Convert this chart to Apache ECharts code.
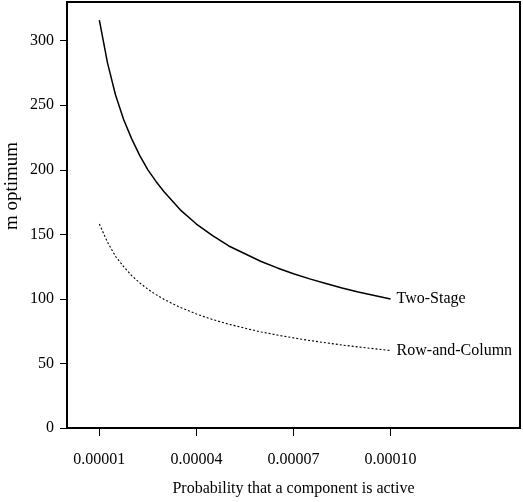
<!DOCTYPE html>
<html>
<head>
<meta charset="utf-8">
<script src="https://cdn.jsdelivr.net/npm/echarts@6/dist/echarts.min.js"></script>
<style>
  html, body { margin: 0; padding: 0; background: #fff; }
  #chart { width: 523px; height: 502px; }
</style>
</head>
<body>
<div id="chart"></div>
<script>
// Probability that a single component is active
var probability = [0.00001, 0.0000125, 0.000015, 0.0000175, 0.00002, 0.0000225,
                   0.000025, 0.0000275, 0.00003, 0.000035, 0.00004, 0.000045,
                   0.00005, 0.000055, 0.00006, 0.000065, 0.00007, 0.000075,
                   0.00008, 0.000085, 0.00009, 0.000095, 0.00010];
// Optimal group size m for each testing scheme
var twoStage     = [316, 283, 258, 239, 224, 211, 200, 191, 183, 169, 158, 149,
                    141, 135, 129, 124, 119.5, 115.5, 112, 108.5, 105.4, 102.6, 100];
var rowAndColumn = [158, 144, 133, 125, 118, 112.4, 107.5, 103.3, 99.6, 93.4, 88.3, 84,
                    80.4, 77.3, 74.4, 72, 69.8, 67.8, 66, 64.3, 62.8, 61.4, 60];

var xTicks = [0.00001, 0.00004, 0.00007, 0.00010];
var yTicks = [0, 50, 100, 150, 200, 250, 300];

var FONT = '"Liberation Serif", "DejaVu Serif", serif';

function pairs(xs, ys) {
  return xs.map(function (x, i) { return [x, ys[i]]; });
}

var chart = echarts.init(document.getElementById('chart'), null, { renderer: 'canvas' });

chart.setOption({
  animation: false,
  backgroundColor: '#ffffff',
  grid: {
    left: 67, right: 3, top: 2, bottom: 74,
    show: true, borderColor: '#000', borderWidth: 2, backgroundColor: 'transparent'
  },
  xAxis: {
    type: 'value',
    min: 0,
    max: 0.00014,
    name: 'Probability that a component is active',
    nameLocation: 'middle',
    nameGap: 53,
    nameTextStyle: { fontFamily: FONT, fontSize: 16, color: '#000' },
    axisLine: { show: true, lineStyle: { color: '#000', width: 2 } },
    axisTick: { show: true, length: 8, customValues: xTicks, lineStyle: { color: '#000', width: 1 } },
    axisLabel: {
      customValues: xTicks,
      margin: 24,
      fontFamily: FONT, fontSize: 16, color: '#000',
      formatter: function (v) { return v.toFixed(5); }
    },
    splitLine: { show: false }
  },
  yAxis: {
    type: 'value',
    min: 0,
    max: 330,
    axisLine: { show: true, lineStyle: { color: '#000', width: 2 } },
    axisTick: { show: true, length: 7, customValues: yTicks, lineStyle: { color: '#000', width: 1 } },
    axisLabel: {
      customValues: yTicks,
      margin: 13,
      fontFamily: FONT, fontSize: 16, color: '#000'
    },
    splitLine: { show: false }
  },
  graphic: [{
    type: 'text',
    x: 12,
    y: 186,
    rotation: Math.PI / 2,
    style: {
      text: 'm optimum',
      fill: '#000',
      font: '19px ' + FONT,
      align: 'center',
      verticalAlign: 'middle'
    }
  }],
  series: [
    {
      name: 'Two-Stage',
      type: 'line',
      data: pairs(probability, twoStage),
      smooth: false,
      showSymbol: false,
      lineStyle: { color: '#000', width: 1.5, type: 'solid', join: 'round' },
      endLabel: {
        show: true,
        formatter: '{a}',
        distance: 6,
        fontFamily: FONT, fontSize: 16, color: '#000'
      }
    },
    {
      name: 'Row-and-Column',
      type: 'line',
      data: pairs(probability, rowAndColumn),
      smooth: false,
      showSymbol: false,
      lineStyle: { color: '#000', width: 1.1, type: [2, 2], join: 'round' },
      endLabel: {
        show: true,
        formatter: '{a}',
        distance: 6,
        fontFamily: FONT, fontSize: 16, color: '#000'
      }
    }
  ]
});
</script>
</body>
</html>
